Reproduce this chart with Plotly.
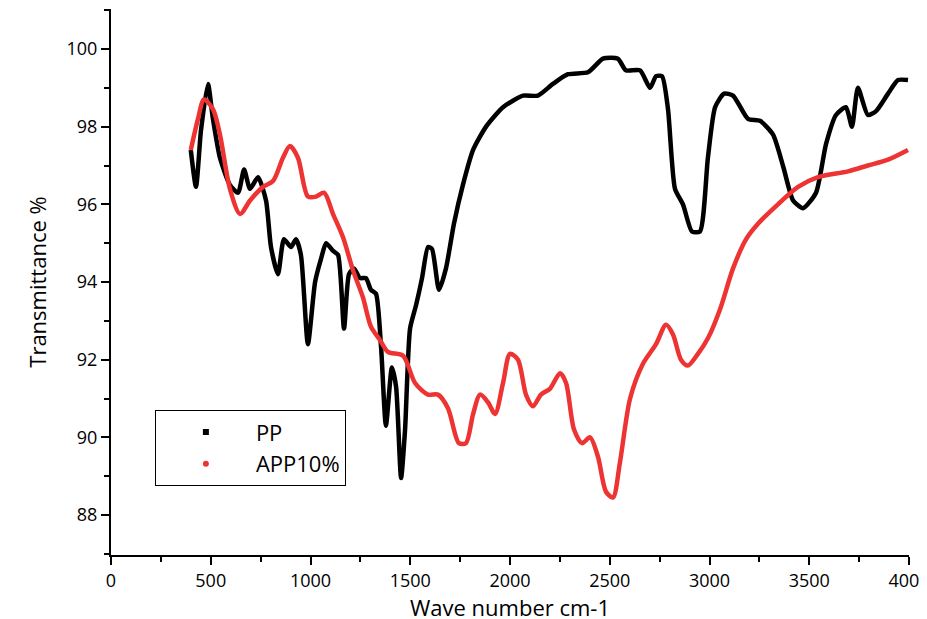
import plotly.graph_objects as go

pp_x = [400,426,451,486,511,546,596,637,667,697,737,777,802,837,867,902,927,952,987,1023,1053,1078,1113,1138,1168,1193,1218,1248,1278,1303,1328,1354,1378,1408,1429,1454,1474,1499,1529,1559,1589,1609,1644,1679,1719,1764,1815,1880,1965,2065,2140,2215,2291,2391,2466,2541,2581,2652,2702,2732,2762,2792,2827,2867,2912,2952,2992,3028,3073,3118,3193,3253,3318,3368,3419,3469,3534,3584,3634,3684,3714,3744,3794,3835,3895,3945,3995]
pp_y = [97.4,96.45,97.9,99.1,98.2,97.2,96.5,96.3,96.9,96.4,96.7,96.1,94.9,94.2,95.1,94.9,95.1,94.7,92.4,94.0,94.6,95.0,94.8,94.7,92.8,94.2,94.35,94.1,94.1,93.8,93.7,92.3,90.3,91.8,91.3,88.95,90.2,92.8,93.4,94.1,94.9,94.85,93.8,94.35,95.5,96.5,97.4,98.0,98.5,98.8,98.8,99.1,99.35,99.4,99.75,99.75,99.45,99.45,99.0,99.3,99.3,98.45,96.4,96.0,95.3,95.3,97.2,98.5,98.85,98.8,98.2,98.15,97.8,97.0,96.1,95.9,96.3,97.55,98.3,98.5,98.0,99.0,98.3,98.4,98.85,99.2,99.2]

app_x = [400,436,466,511,546,596,647,697,762,812,862,897,937,987,1028,1068,1113,1163,1213,1263,1303,1349,1388,1464,1524,1589,1639,1689,1744,1779,1815,1850,1890,1925,1965,2000,2040,2080,2115,2155,2200,2251,2281,2321,2361,2401,2441,2481,2516,2551,2602,2667,2732,2782,2817,2857,2892,2942,2992,3053,3118,3183,3243,3343,3444,3544,3694,3794,3895,3995]
app_y = [97.4,98.2,98.7,98.45,97.8,96.4,95.75,96.1,96.45,96.6,97.2,97.5,97.2,96.2,96.2,96.3,95.75,95.15,94.3,93.6,92.85,92.5,92.2,92.1,91.4,91.1,91.1,90.75,89.85,89.85,90.6,91.1,90.9,90.6,91.4,92.15,92.0,91.1,90.8,91.1,91.25,91.65,91.4,90.2,89.85,90.0,89.5,88.6,88.45,89.35,91.0,91.9,92.4,92.9,92.65,92.0,91.85,92.15,92.55,93.3,94.35,95.1,95.5,96.0,96.45,96.7,96.85,97.0,97.15,97.4]

names = ["PP", "APP10%"]
colors = ["#000000", "#ee3333"]

fig = go.Figure()
fig.add_trace(go.Scatter(x=pp_x, y=pp_y, mode="lines", line=dict(color=colors[0], width=4.5, shape="spline", smoothing=0.6), showlegend=False))
fig.add_trace(go.Scatter(x=app_x, y=app_y, mode="lines", line=dict(color=colors[1], width=4.5, shape="spline", smoothing=0.8), showlegend=False))
fig.add_trace(go.Scatter(x=[None], y=[None], mode="markers", name=names[0], marker=dict(color=colors[0], symbol="square", size=6)))
fig.add_trace(go.Scatter(x=[None], y=[None], mode="markers", name=names[1], marker=dict(color=colors[1], symbol="circle", size=6)))

axis_common = dict(showline=True, linecolor="black", linewidth=2, ticks="outside", ticklen=8, tickwidth=2,
                   tickcolor="black", showgrid=False, zeroline=False, mirror=False, automargin=False,
                   tickfont=dict(size=18, color="black"))
fig.update_layout(
    width=927, height=619, plot_bgcolor="white", paper_bgcolor="white",
    font=dict(family="Open Sans, sans-serif", color="black"),
    margin=dict(l=103, r=26, t=1, b=72),
    xaxis=dict(range=[0, 4000], dtick=500, title=dict(text="Wave number cm-1", font=dict(size=22), standoff=4),
               minor=dict(dtick=250, ticks="outside", ticklen=5, tickwidth=2, tickcolor="black"), **axis_common),
    yaxis=dict(range=[86.97, 101.03], tickvals=[88, 90, 92, 94, 96, 98, 100],
               title=dict(text="Transmittance %", font=dict(size=22), standoff=14),
               minor=dict(dtick=1, ticks="outside", ticklen=5, tickwidth=2, tickcolor="black"), **axis_common),
    legend=dict(x=0.055, y=0.265, xanchor="left", yanchor="top", bordercolor="black", borderwidth=1,
                bgcolor="white", font=dict(size=22), itemwidth=90, tracegroupgap=0),
)
fig.write_html("out.html")
